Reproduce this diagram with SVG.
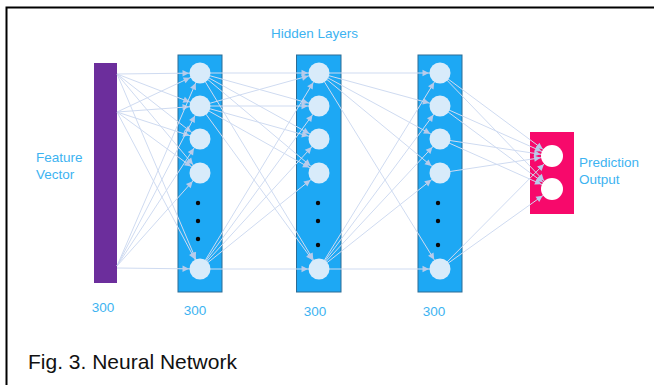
<svg xmlns="http://www.w3.org/2000/svg" width="654" height="385" viewBox="0 0 654 385">
<defs>
<style>
.lbl{font-family:"Liberation Sans",Arial,sans-serif;font-size:13.5px;fill:#3db3f1}
.cap{font-family:"Liberation Sans",Arial,sans-serif;font-size:21px;fill:#111}
.layer{fill:#1da8f4;stroke:#2d6c95;stroke-width:1}
.node{fill:#d8ebfa}
.onode{fill:#ffffff}
.dot{fill:#0a0a0a}
#edges line{stroke:#cfdbf1;stroke-width:1;marker-end:url(#ah)}
#edges .o{marker-end:url(#ao)}
</style>
<marker id="ah" markerUnits="userSpaceOnUse" viewBox="-25 -6 30 12" markerWidth="30" markerHeight="12" refX="0" refY="0" orient="auto" overflow="visible">
<path d="M -17.5 -3.2 L -11 0 L -17.5 3.2 z" fill="#b8cbea"/>
</marker>
<marker id="ao" markerUnits="userSpaceOnUse" viewBox="-25 -6 30 12" markerWidth="30" markerHeight="12" refX="0" refY="0" orient="auto" overflow="visible">
<path d="M -18 -3.2 L -11.5 0 L -18 3.2 z" fill="#b8cbea"/>
</marker>
</defs>
<rect width="654" height="385" fill="#ffffff"/>
<path d="M 6.5 385 L 6.5 7.5 L 654 7.5" fill="none" stroke="#000" stroke-width="2"/>

<g id="input"><rect x="94" y="63" width="23" height="220" fill="#6c2e9c"/></g>
<g id="hidden1"><rect class="layer" x="178" y="55" width="44" height="237"/></g>
<g id="hidden2"><rect class="layer" x="296.5" y="55" width="44.5" height="237"/></g>
<g id="hidden3"><rect class="layer" x="418" y="55" width="44" height="237"/></g>
<g id="output"><rect x="530" y="132" width="44" height="82" fill="#f7096b"/></g>

<g id="edges">
<line x1="117" y1="74" x2="200" y2="73"/>
<line x1="117" y1="74" x2="200" y2="106"/>
<line x1="117" y1="74" x2="200" y2="139"/>
<line x1="117" y1="74" x2="200" y2="173"/>
<line x1="117" y1="74" x2="200" y2="269"/>
<line x1="117" y1="112" x2="200" y2="73"/>
<line x1="117" y1="112" x2="200" y2="106"/>
<line x1="117" y1="112" x2="200" y2="139"/>
<line x1="117" y1="112" x2="200" y2="173"/>
<line x1="117" y1="112" x2="200" y2="269"/>
<line x1="117" y1="266" x2="200" y2="73"/>
<line x1="117" y1="266" x2="200" y2="106"/>
<line x1="117" y1="266" x2="200" y2="139"/>
<line x1="117" y1="266" x2="200" y2="173"/>
<line x1="117" y1="268" x2="200" y2="269"/>

<line x1="200" y1="73" x2="319" y2="73"/>
<line x1="200" y1="73" x2="319" y2="106"/>
<line x1="200" y1="73" x2="319" y2="139"/>
<line x1="200" y1="73" x2="319" y2="173"/>
<line x1="200" y1="73" x2="319" y2="269"/>
<line x1="200" y1="106" x2="319" y2="73"/>
<line x1="200" y1="106" x2="319" y2="106"/>
<line x1="200" y1="106" x2="319" y2="139"/>
<line x1="200" y1="106" x2="319" y2="173"/>
<line x1="200" y1="106" x2="319" y2="269"/>
<line x1="200" y1="269" x2="319" y2="73"/>
<line x1="200" y1="269" x2="319" y2="106"/>
<line x1="200" y1="269" x2="319" y2="139"/>
<line x1="200" y1="269" x2="319" y2="173"/>
<line x1="200" y1="269" x2="319" y2="269"/>

<line x1="319" y1="73" x2="440" y2="73"/>
<line x1="319" y1="73" x2="440" y2="106"/>
<line x1="319" y1="73" x2="440" y2="139"/>
<line x1="319" y1="73" x2="440" y2="173"/>
<line x1="319" y1="73" x2="440" y2="269"/>
<line x1="319" y1="269" x2="440" y2="73"/>
<line x1="319" y1="269" x2="440" y2="106"/>
<line x1="319" y1="269" x2="440" y2="139"/>
<line x1="319" y1="269" x2="440" y2="173"/>
<line x1="319" y1="269" x2="440" y2="269"/>

<line class="o" x1="440" y1="73" x2="552" y2="156"/>
<line class="o" x1="440" y1="73" x2="552" y2="189"/>
<line class="o" x1="440" y1="106" x2="552" y2="156"/>
<line class="o" x1="440" y1="106" x2="552" y2="189"/>
<line class="o" x1="440" y1="139" x2="552" y2="156"/>
<line class="o" x1="440" y1="139" x2="552" y2="189"/>
<line class="o" x1="440" y1="173" x2="552" y2="156"/>
<line class="o" x1="440" y1="269" x2="552" y2="156"/>
<line class="o" x1="440" y1="269" x2="552" y2="189"/>
</g>

<g id="hidden1-nodes">
<circle class="node" cx="200" cy="73" r="10.5"/>
<circle class="node" cx="200" cy="106" r="10.5"/>
<circle class="node" cx="200" cy="139" r="10.5"/>
<circle class="node" cx="200" cy="173" r="10.5"/>
<circle class="node" cx="200" cy="269" r="10.5"/>
<circle class="dot" cx="198" cy="203" r="2.2"/>
<circle class="dot" cx="198" cy="221" r="2.2"/>
<circle class="dot" cx="198" cy="239" r="2.2"/>
</g>
<g id="hidden2-nodes">
<circle class="node" cx="319" cy="73" r="10.5"/>
<circle class="node" cx="319" cy="106" r="10.5"/>
<circle class="node" cx="319" cy="139" r="10.5"/>
<circle class="node" cx="319" cy="173" r="10.5"/>
<circle class="node" cx="319" cy="269" r="10.5"/>
<circle class="dot" cx="318" cy="203" r="2.2"/>
<circle class="dot" cx="318" cy="221" r="2.2"/>
<circle class="dot" cx="318" cy="245" r="2.2"/>
</g>
<g id="hidden3-nodes">
<circle class="node" cx="440" cy="73" r="10.5"/>
<circle class="node" cx="440" cy="106" r="10.5"/>
<circle class="node" cx="440" cy="139" r="10.5"/>
<circle class="node" cx="440" cy="173" r="10.5"/>
<circle class="node" cx="440" cy="269" r="10.5"/>
<circle class="dot" cx="438" cy="203" r="2.2"/>
<circle class="dot" cx="438" cy="221" r="2.2"/>
<circle class="dot" cx="438" cy="245" r="2.2"/>
</g>
<g id="output-nodes">
<circle class="onode" cx="552" cy="156" r="11"/>
<circle class="onode" cx="552" cy="189" r="11"/>
</g>

<g id="labels">
<text class="lbl" x="271" y="38">Hidden Layers</text>
<text class="lbl" x="36" y="162">Feature</text>
<text class="lbl" x="36" y="179">Vector</text>
<text class="lbl" x="579" y="167">Prediction</text>
<text class="lbl" x="579" y="184">Output</text>
<text class="lbl" x="103" y="312" text-anchor="middle">300</text>
<text class="lbl" x="195" y="315" text-anchor="middle">300</text>
<text class="lbl" x="315" y="316" text-anchor="middle">300</text>
<text class="lbl" x="434" y="316" text-anchor="middle">300</text>
<text class="cap" x="28" y="369">Fig. 3. Neural Network</text>
</g>
</svg>
